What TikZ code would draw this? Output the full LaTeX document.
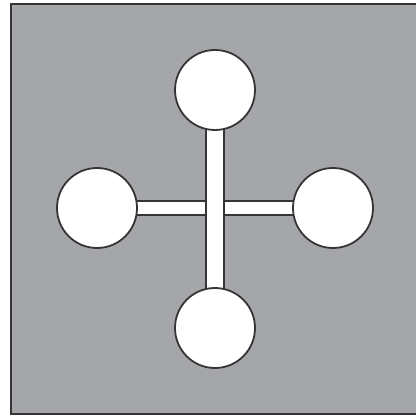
\documentclass[tikz,border=0pt]{standalone}
\usepackage{xcolor}
\usepackage{tikz}
\usetikzlibrary{positioning, backgrounds}
\definecolor{panelgray}{HTML}{A5A6AA}
\definecolor{ink}{HTML}{353535}

\begin{document}
\begin{tikzpicture}[x=0.25mm, y=-0.25mm,
  ball/.style={circle, draw=ink, line width=0.45mm, fill=white, minimum size=20mm, inner sep=0pt},
  rod/.style={draw=ink, line width=0.45mm, double=white}]
\useasboundingbox (0,0) rectangle (415,418);
% —— 四个圆 ——
\node[ball] (top) at (215,90){};
\node[ball] (bottom) at (215,328){};
\node[ball] (left) at (97,208){};
\node[ball] (right) at (333,208){};
\begin{pgfonlayer}{background}
% —— 灰色底板 ——
\fill[panelgray] (11,4) rectangle (417,414);
\draw[ink, line width=0.5mm] (11,4) rectangle (417,414);
% —— 十字连杆 ——
\draw[rod, double distance=3mm] (left.center) -- (right.center);
\draw[rod, double distance=4mm] (top.center) -- (bottom.center);
\end{pgfonlayer}
\end{tikzpicture}
\end{document}
